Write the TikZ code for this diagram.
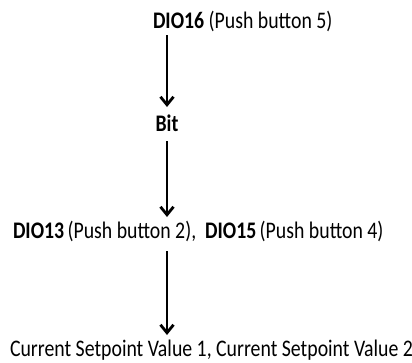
\documentclass[tikz,border=0pt]{standalone}
\usepackage{fontspec}
\setmainfont{Carlito}
\usetikzlibrary{arrows.meta}
\newcommand{\tallt}[1]{\scalebox{1}[1.2]{#1}}
\begin{document}
\begin{tikzpicture}[x=1pt,y=-1pt,
  lbl/.style={inner sep=0pt,outer sep=0pt,font=\fontsize{19.8}{22}\selectfont},
  arr/.style={line width=2.8pt,-{Straight Barb[length=8pt,width=13pt,line width=2.8pt]}}]
\useasboundingbox[fill=white] (0,0) rectangle (412,362);
\node[lbl,anchor=base west] (t) at (153,28) {\tallt{\textbf{DIO16} (Push button 5)}};
\node[lbl,anchor=base] (b) at (167,131) {\tallt{\textbf{Bit}}};
\node[lbl,anchor=base west] (m) at (13,238) {\tallt{\textbf{DIO13}\,(Push button 2),\ \ \textbf{DIO15}\,(Push button 4)}};
\node[lbl,anchor=base west] (c) at (10,356) {\tallt{Current Setpoint Value 1, Current Setpoint Value 2}};
\draw[arr] ([yshift=-7pt]t.base -| b) -- ([yshift=24pt]b.base);
\draw[arr] ([yshift=-10pt]b.base) -- ([yshift=21pt]m.base -| b);
\draw[arr] ([yshift=-13pt]m.base -| b) -- ([yshift=21pt]c.base -| b);
\end{tikzpicture}
\end{document}
